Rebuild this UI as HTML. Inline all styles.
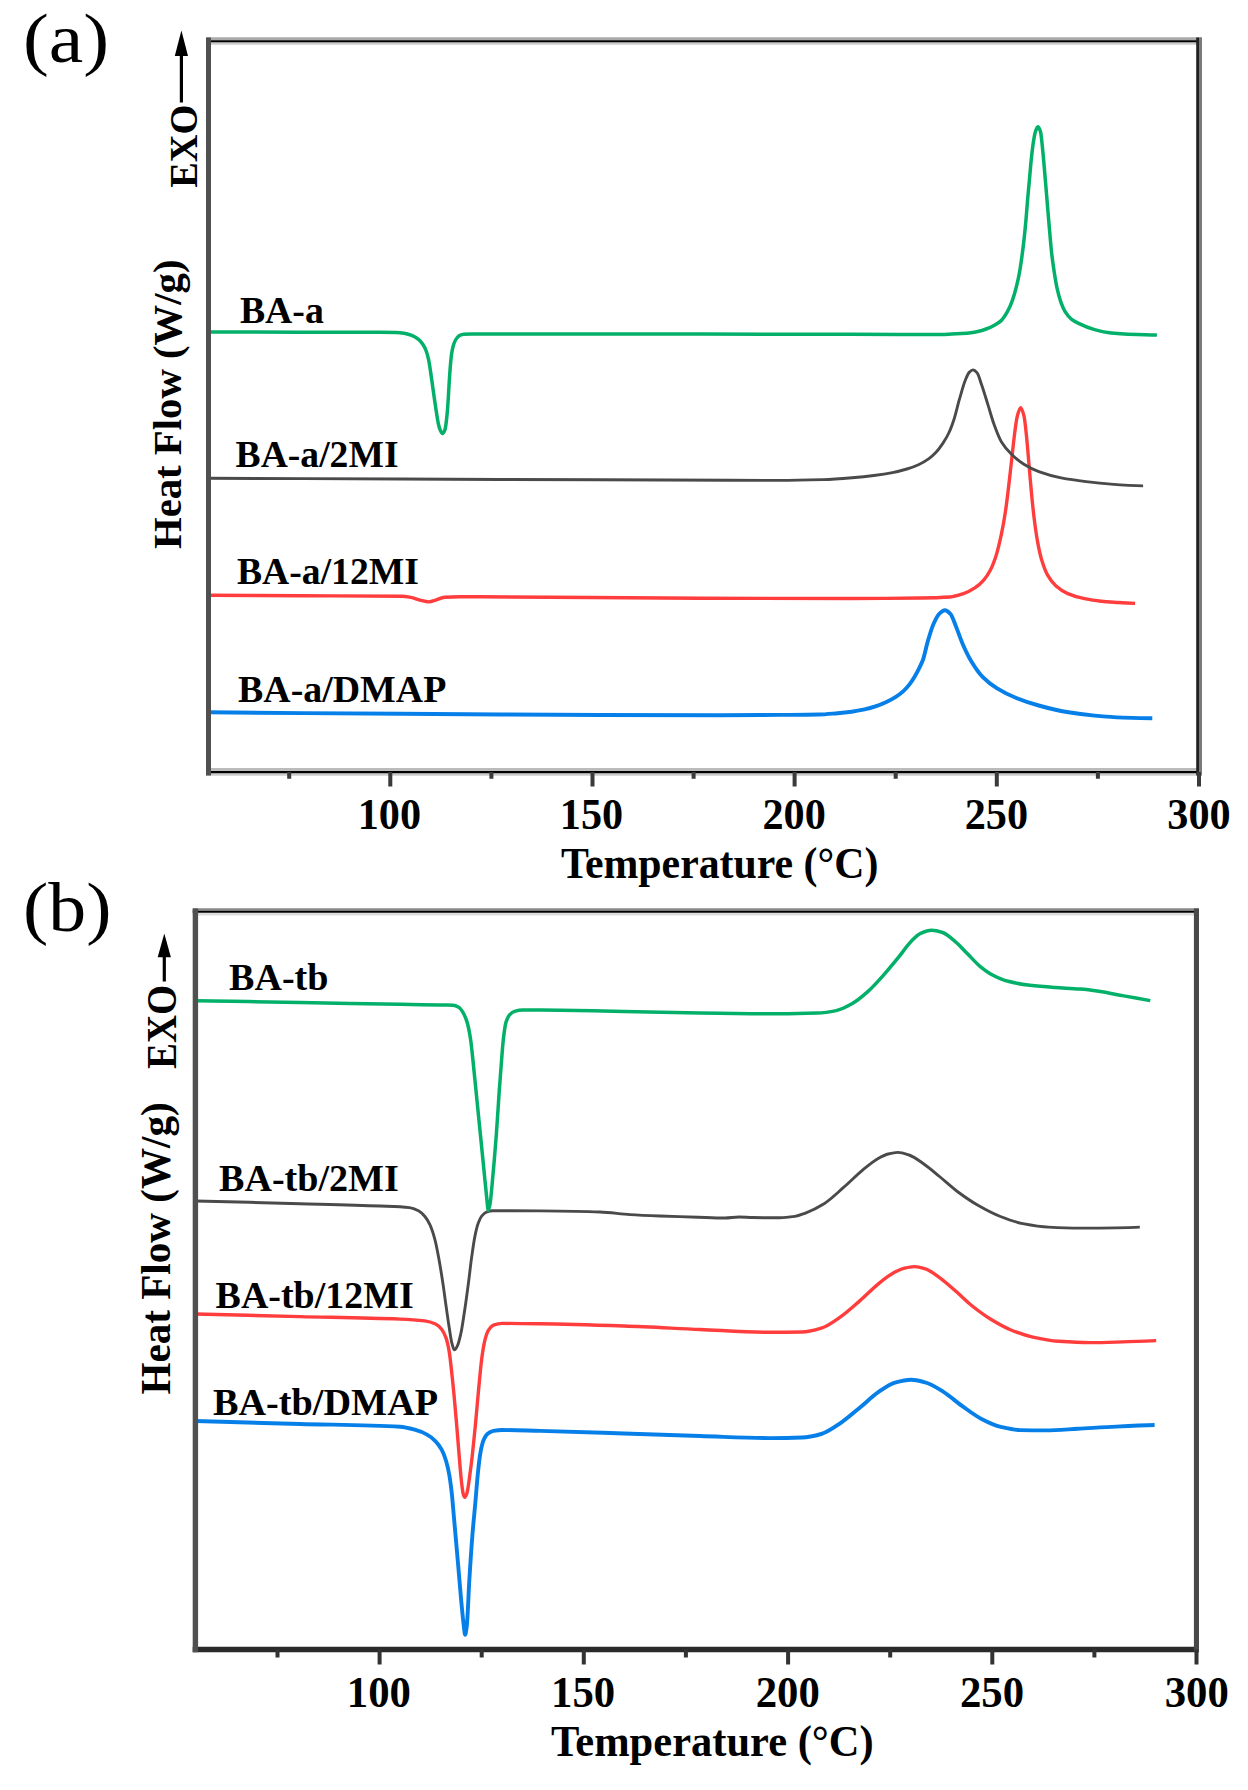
<!DOCTYPE html>
<html><head><meta charset="utf-8"><title>DSC curves</title>
<style>
html,body{margin:0;padding:0;background:#fff;}
body{width:1248px;height:1790px;overflow:hidden;}
svg{display:block;font-family:"Liberation Serif",serif;}
text{fill:#000;}
.c{fill:none;stroke-linejoin:round;stroke-linecap:butt;}
</style></head>
<body>
<svg width="1248" height="1790" viewBox="0 0 1248 1790">
<rect x="0" y="0" width="1248" height="1790" fill="#fff"/>
<!-- panel a -->
<g class="c">
<path d="M208.5 712.3C272.3 712.9 336.2 713.4 400.0 713.8C466.7 714.3 533.3 714.8 600.0 715.0C640.0 715.1 680.0 715.2 720.0 715.2C740.0 715.2 760.0 715.0 780.0 714.9C792.8 714.8 805.7 714.8 818.5 714.5C824.9 714.4 831.3 713.7 837.7 713.2C842.4 712.8 847.1 712.3 851.8 711.7C856.1 711.1 860.3 710.3 864.6 709.4C868.5 708.6 872.3 707.5 876.2 706.2C879.6 705.1 883.0 703.7 886.4 702.1C889.4 700.7 892.4 699.1 895.4 697.2C898.0 695.6 900.5 693.7 903.1 691.4C905.2 689.5 907.4 687.1 909.5 684.4C911.2 682.2 912.9 679.5 914.6 676.7C916.1 674.2 917.6 671.3 919.1 668.3C920.4 665.7 921.6 663.5 922.9 660.0C924.6 655.3 926.3 646.2 928.0 640.5C929.9 634.2 931.7 627.9 933.6 623.7C935.5 619.5 937.3 615.6 939.2 613.8C941.1 612.0 942.9 610.2 944.8 610.2C946.7 610.2 948.5 611.9 950.4 613.8C952.3 615.7 954.1 622.0 956.0 626.5C958.3 632.1 960.7 639.4 963.0 644.7C965.8 651.1 968.6 656.9 971.4 661.5C975.1 667.6 978.9 673.1 982.6 676.9C987.3 681.7 992.0 685.3 996.7 688.2C1003.2 692.3 1009.8 695.4 1016.3 698.0C1023.8 701.0 1031.2 703.4 1038.7 705.5C1048.1 708.1 1057.4 710.5 1066.8 712.0C1076.1 713.5 1085.5 714.7 1094.8 715.6C1104.2 716.5 1113.5 717.3 1122.9 717.6C1132.7 717.9 1142.5 718.2 1152.3 718.2" stroke="#0680E8" stroke-width="3.9"/>
<path d="M208.5 595.2C239.0 595.4 269.5 595.5 300.0 595.7C334.0 595.9 368.0 595.8 402.0 596.3C405.0 596.3 407.9 596.9 410.9 597.4C413.9 597.9 416.9 599.4 419.9 600.1C422.9 600.8 425.9 601.9 428.9 601.9C431.1 601.9 433.4 600.8 435.6 600.1C438.6 599.2 441.6 597.4 444.6 597.2C449.7 596.9 454.9 596.8 460.0 596.8C466.7 596.8 473.3 596.8 480.0 596.8C553.3 596.8 626.7 598.1 700.0 598.3C750.0 598.4 800.0 598.5 850.0 598.5C873.3 598.5 896.7 598.3 920.0 598.0C930.0 597.9 940.0 597.7 950.0 597.0C954.5 596.7 959.0 595.1 963.5 593.6C967.4 592.3 971.3 590.3 975.2 587.7C978.0 585.8 980.9 583.3 983.7 580.1C985.9 577.6 988.2 574.3 990.4 570.0C992.4 566.2 994.3 561.1 996.3 554.9C998.0 549.6 999.6 542.6 1001.3 534.7C1002.7 528.1 1004.1 520.4 1005.5 511.2C1006.6 503.7 1007.8 493.7 1008.9 484.2C1010.0 474.7 1011.2 463.9 1012.3 453.9C1013.1 446.6 1014.0 438.2 1014.8 432.1C1015.6 426.0 1016.5 419.3 1017.3 416.2C1018.4 412.0 1019.6 407.7 1020.7 407.7C1021.8 407.7 1022.9 411.8 1024.0 416.2C1024.9 419.7 1025.7 428.9 1026.6 437.1C1027.4 445.0 1028.3 456.2 1029.1 465.7C1029.9 475.2 1030.8 485.7 1031.6 494.3C1032.4 502.9 1033.3 511.2 1034.1 517.9C1035.2 527.0 1036.4 535.2 1037.5 541.4C1038.9 549.0 1040.3 555.4 1041.7 560.0C1043.7 566.5 1045.6 571.6 1047.6 575.1C1050.4 580.0 1053.2 583.5 1056.0 586.0C1059.9 589.5 1063.9 591.9 1067.8 593.6C1073.4 596.0 1079.0 597.6 1084.6 598.7C1090.2 599.8 1095.8 600.6 1101.4 601.2C1107.0 601.8 1112.7 602.1 1118.3 602.5C1123.9 602.9 1129.5 603.2 1135.1 603.4" stroke="#FF3D3D" stroke-width="3.4"/>
<path d="M208.5 478.3C272.3 478.5 336.2 478.8 400.0 479.0C466.7 479.3 533.3 479.6 600.0 479.8C643.0 479.9 686.0 480.0 729.0 480.2C746.0 480.3 763.0 480.4 780.0 480.4C794.4 480.4 808.9 480.0 823.3 479.6C832.9 479.3 842.5 478.5 852.1 477.7C859.3 477.1 866.6 476.4 873.8 475.5C880.0 474.7 886.3 473.8 892.5 472.6C897.3 471.7 902.1 470.4 906.9 469.0C910.8 467.8 914.6 466.5 918.5 464.7C921.9 463.2 925.2 461.3 928.6 458.9C931.0 457.2 933.4 455.0 935.8 452.5C938.2 450.0 940.6 446.7 943.0 443.1C944.9 440.2 946.9 437.1 948.8 433.0C950.5 429.5 952.1 425.1 953.8 420.0C955.6 414.4 957.5 406.0 959.3 399.7C961.4 392.6 963.4 384.8 965.5 379.8C966.7 376.8 968.0 373.6 969.2 372.4C970.4 371.2 971.7 369.9 972.9 369.9C974.3 369.9 975.8 371.3 977.2 372.9C978.7 374.5 980.1 380.6 981.6 384.8C983.7 390.9 985.8 397.9 987.9 404.6C990.0 411.2 992.0 418.9 994.1 424.5C996.6 431.2 999.0 437.8 1001.5 441.9C1004.8 447.4 1008.2 451.0 1011.5 454.3C1015.6 458.4 1019.8 461.7 1023.9 464.3C1028.9 467.4 1033.8 469.9 1038.8 471.7C1046.2 474.4 1053.7 476.5 1061.1 477.9C1069.4 479.5 1077.7 480.6 1086.0 481.6C1094.3 482.6 1102.5 483.5 1110.8 484.1C1121.6 484.9 1132.3 485.6 1143.1 485.9" stroke="#4A4A4A" stroke-width="2.9"/>
<path d="M208.5 332.0C239.0 332.1 269.5 332.2 300.0 332.2C326.7 332.2 353.3 332.2 380.0 332.3C385.3 332.3 390.7 332.4 396.0 332.6C398.7 332.7 401.3 332.9 404.0 333.2C406.6 333.5 409.1 334.4 411.7 335.4C414.0 336.3 416.2 337.6 418.5 339.4C419.9 340.5 421.4 342.1 422.8 344.2C423.9 345.8 425.1 348.0 426.2 351.0C427.0 353.1 427.8 356.0 428.6 359.6C429.2 362.5 429.9 367.1 430.5 371.2C431.1 375.3 431.8 380.1 432.4 384.6C433.0 389.1 433.7 393.7 434.3 398.1C435.0 402.7 435.6 407.2 436.3 411.5C436.9 415.5 437.6 420.3 438.2 423.1C438.8 425.9 439.5 428.4 440.1 429.8C440.9 431.5 441.7 433.5 442.5 433.5C443.3 433.5 444.1 431.8 444.9 429.8C445.5 428.2 446.2 422.9 446.8 417.3C447.2 413.5 447.7 407.2 448.1 401.0C448.5 395.7 448.8 388.4 449.2 382.7C449.6 376.5 450.0 369.9 450.4 365.4C450.9 359.8 451.4 354.8 451.9 351.9C452.6 347.9 453.3 345.1 454.0 343.3C455.0 340.8 455.9 339.2 456.9 338.0C457.9 336.8 458.8 335.9 459.8 335.4C461.1 334.8 462.4 334.3 463.7 334.2C466.2 334.1 468.8 334.0 471.3 334.0C477.5 334.0 483.8 334.1 490.0 334.1C526.7 334.1 563.3 334.1 600.0 334.1C666.7 334.1 733.3 334.1 800.0 334.2C833.3 334.2 866.7 334.4 900.0 334.4C915.0 334.4 929.9 334.4 944.9 334.4C950.5 334.4 956.1 334.0 961.7 333.6C965.4 333.4 969.2 333.0 972.9 332.5C975.9 332.1 978.9 331.3 981.9 330.5C984.5 329.8 987.1 328.8 989.7 327.7C992.0 326.7 994.2 325.5 996.5 324.1C998.1 323.1 999.6 322.1 1001.2 320.6C1003.3 318.6 1005.3 315.4 1007.4 311.7C1009.0 308.8 1010.7 305.1 1012.3 300.6C1013.7 296.7 1015.2 291.6 1016.6 285.9C1017.6 281.8 1018.7 277.0 1019.7 271.2C1020.5 266.7 1021.3 261.1 1022.1 255.2C1022.8 250.0 1023.5 244.4 1024.2 238.0C1024.8 232.2 1025.5 225.4 1026.1 218.3C1026.6 212.7 1027.1 205.7 1027.6 199.9C1028.2 192.5 1028.9 185.9 1029.5 179.0C1030.1 172.4 1030.7 164.9 1031.3 159.3C1032.0 152.7 1032.7 146.5 1033.4 142.1C1034.1 137.5 1034.9 133.0 1035.6 131.1C1036.4 128.9 1037.3 126.8 1038.1 126.8C1038.9 126.8 1039.8 129.3 1040.6 132.3C1041.2 134.4 1041.8 141.4 1042.4 147.0C1043.0 152.6 1043.6 159.9 1044.2 166.7C1044.8 173.8 1045.5 181.2 1046.1 188.8C1046.7 196.0 1047.3 203.7 1047.9 210.9C1048.5 218.5 1049.2 226.0 1049.8 233.1C1050.4 239.9 1051.0 247.4 1051.6 252.7C1052.4 260.1 1053.3 265.8 1054.1 271.2C1055.1 277.7 1056.1 283.9 1057.1 288.4C1058.3 293.9 1059.6 298.4 1060.8 301.9C1062.2 305.9 1063.7 309.4 1065.1 311.7C1067.2 315.0 1069.2 317.5 1071.3 319.1C1073.7 321.0 1076.2 322.2 1078.6 323.4C1083.9 326.0 1089.3 328.2 1094.6 329.6C1100.2 331.1 1105.8 332.4 1111.4 333.0C1117.0 333.6 1122.7 334.1 1128.3 334.3C1137.8 334.7 1147.4 335.1 1156.9 335.1" stroke="#03B06A" stroke-width="3.5"/>
</g>
<path d="M206.00 38.75 L1202.00 38.75" stroke="#aaaaaa" stroke-width="2.9" fill="none"/>
<path d="M206.00 43.40 L1202.00 43.40" stroke="#cccccc" stroke-width="2.6" fill="none"/>
<path d="M206.00 41.15 L1202.00 41.15" stroke="#000000" stroke-width="2" fill="none"/>
<path d="M206.00 769.50 L1202.00 769.50" stroke="#bbbbbb" stroke-width="3.2" fill="none"/>
<path d="M206.00 774.50 L1202.00 774.50" stroke="#cccccc" stroke-width="2.3" fill="none"/>
<path d="M206.00 772.20 L1202.00 772.20" stroke="#000000" stroke-width="2.2" fill="none"/>
<path d="M208.50 37.60 L208.50 775.40" stroke="#505050" stroke-width="5" fill="none"/>
<path d="M1197.60 37.60 L1197.60 775.40" stroke="#222222" stroke-width="2.8" fill="none"/>
<path d="M1200.50 37.60 L1200.50 775.40" stroke="#7a7a7a" stroke-width="3" fill="none"/>
<path d="M390.3 772.0 V786.5M592.5 772.0 V786.5M794.6 772.0 V786.5M996.8 772.0 V786.5M1199.0 772.0 V786.5" stroke="#3a3a3a" stroke-width="4" fill="none"/>
<path d="M289.2 772.0 V778.8M491.4 772.0 V778.8M693.6 772.0 V778.8M895.7 772.0 V778.8M1097.9 772.0 V778.8" stroke="#3a3a3a" stroke-width="4" fill="none"/>
<text x="357.66" y="828.50" font-size="44" font-weight="bold" textLength="63.36" lengthAdjust="spacingAndGlyphs">100</text>
<text x="559.84" y="828.50" font-size="44" font-weight="bold" textLength="63.36" lengthAdjust="spacingAndGlyphs">150</text>
<text x="762.49" y="828.50" font-size="44" font-weight="bold" textLength="63.36" lengthAdjust="spacingAndGlyphs">200</text>
<text x="964.67" y="828.50" font-size="44" font-weight="bold" textLength="63.36" lengthAdjust="spacingAndGlyphs">250</text>
<text x="1167.32" y="828.50" font-size="44" font-weight="bold" textLength="63.36" lengthAdjust="spacingAndGlyphs">300</text>
<text x="22.97" y="62.20" font-size="70" font-weight="normal" textLength="86.23" lengthAdjust="spacingAndGlyphs">(a)</text>
<text x="239.90" y="322.50" font-size="38" font-weight="bold" textLength="83.95" lengthAdjust="spacingAndGlyphs">BA-a</text>
<text x="235.60" y="467.00" font-size="38" font-weight="bold" textLength="162.95" lengthAdjust="spacingAndGlyphs">BA-a/2MI</text>
<text x="237.00" y="583.50" font-size="38" font-weight="bold" textLength="181.95" lengthAdjust="spacingAndGlyphs">BA-a/12MI</text>
<text x="238.00" y="701.50" font-size="38" font-weight="bold" textLength="208.37" lengthAdjust="spacingAndGlyphs">BA-a/DMAP</text>
<text x="560.90" y="877.50" font-size="44" font-weight="bold" textLength="317.44" lengthAdjust="spacingAndGlyphs">Temperature (°C)</text>
<text x="181.00" y="549.00" font-size="41" font-weight="bold" textLength="289.47" lengthAdjust="spacingAndGlyphs" transform="rotate(-90 181.00 549.00)">Heat Flow (W/g)</text>
<text x="197.00" y="187.70" font-size="41" font-weight="bold" textLength="83.04" lengthAdjust="spacingAndGlyphs" transform="rotate(-90 197.00 187.70)">EXO</text>
<path d="M181.4 102.5 V55.0" stroke="#000" stroke-width="3.2" fill="none"/>
<path d="M181.4 30.5 L174.8 56.0 L188.0 56.0 Z" fill="#000"/>
<!-- panel b -->
<g class="c">
<path d="M195.5 1421.0C230.3 1422.0 265.2 1423.0 300.0 1424.0C333.3 1424.9 366.7 1424.8 400.0 1426.8C404.9 1427.1 409.8 1428.4 414.7 1429.7C418.8 1430.8 422.9 1432.4 427.0 1434.6C429.9 1436.1 432.7 1438.4 435.6 1441.3C437.7 1443.4 439.7 1446.1 441.8 1449.9C443.2 1452.5 444.7 1456.3 446.1 1461.0C447.1 1464.4 448.2 1468.8 449.2 1474.5C450.0 1478.9 450.8 1484.8 451.6 1491.7C452.5 1499.2 453.3 1510.6 454.2 1520.2C455.5 1535.0 456.9 1550.1 458.2 1565.5C459.2 1577.0 460.2 1590.1 461.2 1600.7C462.1 1609.9 462.9 1619.0 463.8 1625.9C464.2 1629.3 464.7 1634.9 465.1 1634.9C465.7 1634.9 466.2 1630.4 466.8 1625.9C467.6 1619.3 468.5 1594.2 469.3 1580.6C470.3 1564.3 471.3 1548.9 472.3 1536.3C473.3 1523.7 474.3 1514.5 475.3 1503.2C476.2 1493.1 477.1 1480.5 478.0 1472.1C478.8 1464.3 479.7 1456.9 480.5 1452.4C481.5 1446.9 482.6 1442.5 483.6 1440.1C484.8 1437.2 486.1 1435.0 487.3 1434.0C489.3 1432.3 491.4 1431.3 493.4 1430.9C496.3 1430.4 499.1 1430.0 502.0 1430.0C514.7 1430.0 527.3 1430.6 540.0 1430.9C568.0 1431.6 596.0 1432.6 624.0 1433.5C649.3 1434.3 674.7 1435.2 700.0 1436.0C723.3 1436.7 746.7 1438.1 770.0 1438.1C780.7 1438.1 791.3 1437.9 802.0 1437.5C808.4 1437.3 814.9 1435.8 821.3 1434.0C827.7 1432.2 834.1 1427.4 840.5 1423.1C846.9 1418.8 853.3 1412.9 859.7 1407.7C866.1 1402.5 872.6 1396.0 879.0 1391.7C884.3 1388.1 889.7 1384.2 895.0 1382.7C900.3 1381.2 905.7 1379.8 911.0 1379.8C916.3 1379.8 921.7 1381.4 927.0 1383.0C932.4 1384.6 937.7 1388.3 943.1 1391.7C949.5 1395.7 955.9 1401.6 962.3 1406.1C968.7 1410.6 975.1 1415.6 981.5 1418.9C987.9 1422.2 994.4 1425.4 1000.8 1426.9C1007.2 1428.4 1013.6 1430.0 1020.0 1430.1C1028.5 1430.3 1037.1 1430.4 1045.6 1430.4C1056.3 1430.4 1067.0 1429.4 1077.7 1428.8C1090.5 1428.1 1103.4 1427.2 1116.2 1426.6C1129.0 1426.0 1141.8 1425.4 1154.6 1425.0" stroke="#0680E8" stroke-width="3.9"/>
<path d="M195.5 1314.0C230.3 1314.9 265.2 1315.7 300.0 1316.6C333.3 1317.4 366.7 1317.7 400.0 1319.1C408.2 1319.4 416.4 1319.9 424.6 1320.9C428.3 1321.4 431.9 1322.4 435.6 1324.0C437.7 1324.9 439.7 1326.9 441.8 1329.5C443.2 1331.3 444.7 1334.1 446.1 1338.1C447.1 1341.0 448.2 1345.6 449.2 1351.6C450.0 1356.2 450.8 1364.1 451.6 1371.3C452.4 1378.8 453.3 1387.1 454.1 1395.9C454.9 1404.3 455.7 1413.5 456.5 1422.9C457.3 1432.7 458.2 1443.8 459.0 1453.6C459.8 1463.4 460.7 1474.9 461.5 1481.9C462.1 1486.9 462.7 1492.3 463.3 1494.2C463.8 1495.8 464.3 1497.3 464.8 1497.3C465.5 1497.3 466.3 1495.2 467.0 1493.0C467.8 1490.6 468.6 1483.7 469.4 1478.2C470.4 1471.1 471.5 1462.7 472.5 1453.6C473.5 1444.5 474.6 1433.7 475.6 1422.9C476.6 1412.1 477.7 1399.3 478.7 1388.5C479.7 1378.1 480.7 1366.4 481.7 1359.0C482.7 1351.3 483.8 1344.6 484.8 1340.6C486.0 1335.8 487.3 1332.0 488.5 1330.1C490.1 1327.6 491.8 1325.8 493.4 1325.2C496.3 1324.1 499.1 1323.4 502.0 1323.4C514.7 1323.4 527.3 1323.6 540.0 1323.8C568.0 1324.2 596.0 1325.1 624.0 1326.0C649.3 1326.8 674.7 1328.4 700.0 1329.5C723.3 1330.5 746.7 1332.3 770.0 1332.3C780.7 1332.3 791.3 1332.2 802.0 1332.0C808.4 1331.9 814.9 1330.0 821.3 1328.1C827.7 1326.2 834.1 1321.3 840.5 1316.9C846.9 1312.5 853.3 1306.5 859.7 1300.9C866.1 1295.3 872.6 1288.4 879.0 1283.3C884.3 1279.1 889.7 1274.8 895.0 1272.1C898.2 1270.5 901.4 1269.0 904.6 1268.2C907.8 1267.4 911.0 1266.6 914.2 1266.6C917.9 1266.6 921.7 1267.7 925.4 1268.8C930.2 1270.2 935.1 1274.4 939.9 1277.8C945.2 1281.6 950.6 1286.7 955.9 1291.3C961.2 1295.9 966.6 1301.4 971.9 1305.7C978.3 1310.8 984.8 1315.6 991.2 1319.5C997.6 1323.4 1004.0 1327.1 1010.4 1329.7C1017.9 1332.8 1025.3 1335.5 1032.8 1337.1C1041.4 1339.0 1049.9 1340.7 1058.5 1341.3C1069.2 1342.0 1079.8 1342.6 1090.5 1342.6C1101.2 1342.6 1111.9 1342.2 1122.6 1341.9C1133.8 1341.6 1145.0 1341.1 1156.2 1340.6" stroke="#FF3D3D" stroke-width="3.4"/>
<path d="M195.5 1201.0C230.3 1201.8 265.2 1202.7 300.0 1203.7C326.7 1204.4 353.3 1204.9 380.0 1206.0C389.8 1206.4 399.7 1206.5 409.5 1207.6C412.5 1207.9 415.5 1209.2 418.5 1210.8C420.6 1211.9 422.8 1214.0 424.9 1216.5C426.6 1218.5 428.3 1221.3 430.0 1224.9C431.7 1228.5 433.4 1233.9 435.1 1240.3C436.4 1245.2 437.7 1252.4 439.0 1259.5C440.3 1266.4 441.5 1274.2 442.8 1282.6C443.9 1289.6 444.9 1298.1 446.0 1305.6C447.1 1313.1 448.1 1320.7 449.2 1327.4C450.1 1332.9 450.9 1339.6 451.8 1342.8C452.7 1346.0 453.5 1349.9 454.4 1349.9C455.5 1349.9 456.5 1347.6 457.6 1345.4C458.7 1343.2 459.7 1338.6 460.8 1333.8C462.1 1328.1 463.3 1319.1 464.6 1310.8C465.9 1302.2 467.2 1292.5 468.5 1282.6C469.6 1274.5 470.6 1264.5 471.7 1256.9C472.8 1249.3 473.8 1241.7 474.9 1236.4C476.0 1231.1 477.0 1226.5 478.1 1223.6C479.4 1220.2 480.6 1217.4 481.9 1215.9C483.4 1214.1 484.9 1212.6 486.4 1212.1C488.5 1211.4 490.7 1210.8 492.8 1210.8C498.5 1210.7 504.3 1210.7 510.0 1210.7C520.0 1210.7 530.0 1210.8 540.0 1210.9C560.0 1211.1 580.0 1211.3 600.0 1212.0C610.0 1212.3 620.0 1214.0 630.0 1214.6C640.0 1215.2 650.0 1215.6 660.0 1216.0C672.7 1216.5 685.3 1216.8 698.0 1217.2C707.0 1217.5 716.0 1218.0 725.0 1218.0C729.7 1218.0 734.3 1217.0 739.0 1217.0C743.3 1217.0 747.7 1217.4 752.0 1217.5C761.3 1217.7 770.7 1217.8 780.0 1217.8C785.0 1217.8 790.0 1217.1 795.0 1216.4C798.3 1215.9 801.6 1214.5 804.9 1213.3C811.3 1210.9 817.7 1207.7 824.1 1203.7C830.5 1199.7 836.9 1193.3 843.3 1187.7C849.7 1182.1 856.2 1175.4 862.6 1170.1C867.9 1165.7 873.3 1161.1 878.6 1158.2C881.8 1156.5 885.0 1154.8 888.2 1154.0C891.4 1153.2 894.6 1152.4 897.8 1152.4C901.5 1152.4 905.3 1153.8 909.0 1155.0C913.8 1156.6 918.7 1160.4 923.5 1163.7C928.8 1167.3 934.2 1172.1 939.5 1176.5C945.9 1181.7 952.3 1187.8 958.7 1192.5C965.1 1197.2 971.5 1201.6 977.9 1205.3C985.4 1209.6 992.9 1213.6 1000.4 1216.5C1007.9 1219.4 1015.3 1222.2 1022.8 1223.6C1031.4 1225.2 1039.9 1226.7 1048.5 1227.1C1059.2 1227.7 1069.8 1228.1 1080.5 1228.1C1100.3 1228.1 1120.0 1228.1 1139.8 1227.1" stroke="#4A4A4A" stroke-width="2.9"/>
<path d="M195.5 1000.8C230.3 1001.3 265.2 1001.9 300.0 1002.5C333.3 1003.1 366.7 1003.7 400.0 1004.3C415.0 1004.5 430.0 1004.6 445.0 1005.0C447.7 1005.1 450.4 1005.1 453.1 1005.3C455.0 1005.4 456.8 1006.2 458.7 1007.2C460.1 1007.9 461.4 1009.9 462.8 1012.1C464.2 1014.3 465.6 1017.5 467.0 1021.9C468.2 1025.6 469.3 1031.3 470.5 1038.7C471.4 1044.6 472.4 1055.0 473.3 1063.8C474.5 1074.8 475.6 1087.1 476.8 1098.7C478.0 1110.3 479.1 1122.0 480.3 1133.6C481.5 1145.2 482.6 1156.8 483.8 1168.5C484.7 1177.8 485.7 1188.2 486.6 1196.5C487.2 1201.6 487.7 1210.4 488.3 1210.4C488.9 1210.4 489.5 1206.7 490.1 1203.5C491.0 1198.5 492.0 1185.6 492.9 1175.5C494.1 1162.8 495.2 1149.2 496.4 1133.6C497.3 1121.1 498.3 1104.8 499.2 1091.7C499.9 1081.9 500.6 1072.6 501.3 1063.8C502.0 1055.0 502.7 1044.5 503.4 1038.7C504.3 1031.2 505.2 1024.7 506.1 1021.9C507.3 1018.3 508.4 1016.2 509.6 1014.9C511.2 1013.1 512.9 1011.9 514.5 1011.4C517.3 1010.6 520.1 1010.0 522.9 1010.0C535.3 1010.0 547.6 1010.2 560.0 1010.3C581.3 1010.5 602.7 1011.1 624.0 1011.5C649.3 1012.0 674.7 1012.7 700.0 1013.0C726.7 1013.4 753.3 1013.8 780.0 1013.8C792.5 1013.8 805.0 1013.5 817.5 1013.1C823.8 1012.9 830.0 1011.9 836.3 1010.6C841.5 1009.5 846.7 1006.7 851.9 1003.8C857.1 1000.9 862.3 996.5 867.5 991.9C872.7 987.3 877.9 981.4 883.1 975.6C888.3 969.8 893.6 963.3 898.8 956.9C903.0 951.8 907.1 945.5 911.3 941.3C914.4 938.2 917.5 934.7 920.6 933.4C924.3 931.8 927.9 930.3 931.6 930.3C935.2 930.3 938.9 931.4 942.5 932.5C946.7 933.8 950.8 937.9 955.0 941.3C959.2 944.7 963.3 949.6 967.5 953.8C971.7 958.0 975.8 962.9 980.0 966.3C984.2 969.7 988.3 972.8 992.5 975.0C997.7 977.7 1002.9 980.0 1008.1 981.3C1015.4 983.2 1022.7 984.4 1030.0 985.3C1038.3 986.3 1046.7 986.9 1055.0 987.5C1063.3 988.1 1071.7 988.4 1080.0 989.1C1086.3 989.6 1092.5 990.4 1098.8 991.3C1107.1 992.5 1115.5 994.4 1123.8 995.9C1132.6 997.5 1141.5 999.1 1150.3 1000.6" stroke="#03B06A" stroke-width="3.5"/>
</g>
<path d="M192.70 909.55 L1198.80 909.55" stroke="#888888" stroke-width="2.5" fill="none"/>
<path d="M192.70 914.20 L1198.80 914.20" stroke="#dddddd" stroke-width="2.8" fill="none"/>
<path d="M192.70 911.80 L1198.80 911.80" stroke="#000000" stroke-width="2" fill="none"/>
<path d="M192.70 1649.45 L1198.80 1649.45" stroke="#2a2a2a" stroke-width="5.5" fill="none"/>
<path d="M195.40 908.40 L195.40 1652.20" stroke="#505050" stroke-width="5.4" fill="none"/>
<path d="M1196.45 908.40 L1196.45 1652.20" stroke="#484848" stroke-width="5.1" fill="none"/>
<path d="M379.6 1649.5 V1664.5M583.8 1649.5 V1664.5M788.1 1649.5 V1664.5M992.3 1649.5 V1664.5M1196.5 1649.5 V1664.5" stroke="#333333" stroke-width="4" fill="none"/>
<path d="M277.5 1649.5 V1657.5M481.7 1649.5 V1657.5M685.9 1649.5 V1657.5M890.2 1649.5 V1657.5M1094.4 1649.5 V1657.5" stroke="#333333" stroke-width="4" fill="none"/>
<text x="346.82" y="1707.00" font-size="45" font-weight="bold" textLength="64.13" lengthAdjust="spacingAndGlyphs">100</text>
<text x="551.05" y="1707.00" font-size="45" font-weight="bold" textLength="64.12" lengthAdjust="spacingAndGlyphs">150</text>
<text x="755.75" y="1707.00" font-size="45" font-weight="bold" textLength="64.12" lengthAdjust="spacingAndGlyphs">200</text>
<text x="959.98" y="1707.00" font-size="45" font-weight="bold" textLength="64.12" lengthAdjust="spacingAndGlyphs">250</text>
<text x="1164.67" y="1707.00" font-size="45" font-weight="bold" textLength="64.12" lengthAdjust="spacingAndGlyphs">300</text>
<text x="23.05" y="930.60" font-size="70" font-weight="normal" textLength="88.39" lengthAdjust="spacingAndGlyphs">(b)</text>
<text x="229.00" y="990.10" font-size="38" font-weight="bold" textLength="99.44" lengthAdjust="spacingAndGlyphs">BA-tb</text>
<text x="219.00" y="1191.00" font-size="38" font-weight="bold" textLength="179.75" lengthAdjust="spacingAndGlyphs">BA-tb/2MI</text>
<text x="215.60" y="1307.70" font-size="38" font-weight="bold" textLength="198.15" lengthAdjust="spacingAndGlyphs">BA-tb/12MI</text>
<text x="213.00" y="1414.50" font-size="38" font-weight="bold" textLength="225.17" lengthAdjust="spacingAndGlyphs">BA-tb/DMAP</text>
<text x="550.90" y="1756.00" font-size="45" font-weight="bold" textLength="322.79" lengthAdjust="spacingAndGlyphs">Temperature (°C)</text>
<text x="170.30" y="1394.50" font-size="43" font-weight="bold" textLength="292.13" lengthAdjust="spacingAndGlyphs" transform="rotate(-90 170.30 1394.50)">Heat Flow (W/g)</text>
<text x="176.00" y="1068.90" font-size="43" font-weight="bold" textLength="84.28" lengthAdjust="spacingAndGlyphs" transform="rotate(-90 176.00 1068.90)">EXO</text>
<path d="M164.3 981.5 V956.2" stroke="#000" stroke-width="3.2" fill="none"/>
<path d="M164.3 933.5 L157.7 957.2 L170.9 957.2 Z" fill="#000"/>
</svg>
</body></html>
